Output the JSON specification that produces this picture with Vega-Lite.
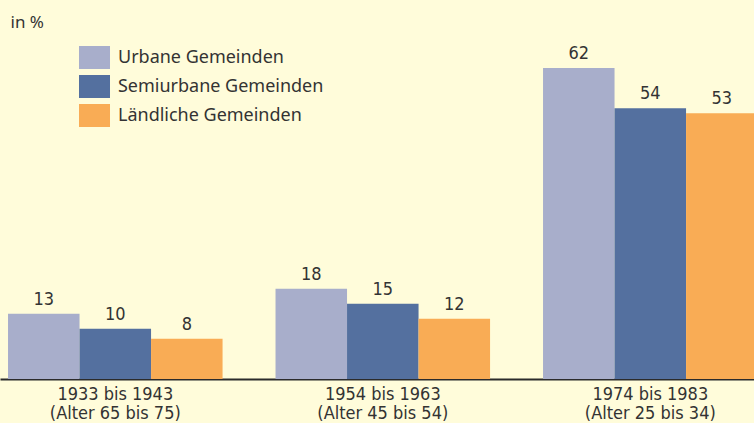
{
  "$schema": "https://vega.github.io/schema/vega-lite/v6.json",
  "width": 765.6,
  "height": 379,
  "autosize": "none",
  "padding": {"left": 0, "top": 0, "right": 0, "bottom": 44},
  "background": "#FFFCDA",
  "config": {"view": {"stroke": null}, "font": "DejaVu Sans Condensed, Liberation Sans, sans-serif"},
  "data": {"values": [
    {"gruppe": "1933 bis 1943|(Alter 65 bis 75)", "typ": "Urbane Gemeinden", "wert": 13},
    {"gruppe": "1933 bis 1943|(Alter 65 bis 75)", "typ": "Semiurbane Gemeinden", "wert": 10},
    {"gruppe": "1933 bis 1943|(Alter 65 bis 75)", "typ": "Ländliche Gemeinden", "wert": 8},
    {"gruppe": "1954 bis 1963|(Alter 45 bis 54)", "typ": "Urbane Gemeinden", "wert": 18},
    {"gruppe": "1954 bis 1963|(Alter 45 bis 54)", "typ": "Semiurbane Gemeinden", "wert": 15},
    {"gruppe": "1954 bis 1963|(Alter 45 bis 54)", "typ": "Ländliche Gemeinden", "wert": 12},
    {"gruppe": "1974 bis 1983|(Alter 25 bis 34)", "typ": "Urbane Gemeinden", "wert": 62},
    {"gruppe": "1974 bis 1983|(Alter 25 bis 34)", "typ": "Semiurbane Gemeinden", "wert": 54},
    {"gruppe": "1974 bis 1983|(Alter 25 bis 34)", "typ": "Ländliche Gemeinden", "wert": 53}
  ]},
  "encoding": {
    "x": {
      "field": "gruppe", "type": "nominal", "sort": null,
      "scale": {"paddingInner": 0.198, "paddingOuter": 0.03},
      "axis": {
        "title": null, "labelAngle": 0, "ticks": false,
        "domainColor": "#2b2b2b", "domainWidth": 2,
        "labelFont": "DejaVu Sans Condensed, Liberation Sans, sans-serif", "labelFontSize": 18, "labelColor": "#333333",
        "labelPadding": 7, "labelLineHeight": 19, "labelBaseline": "top",
        "labelExpr": "split(datum.label, '|')"
      }
    },
    "xOffset": {
      "field": "typ", "type": "nominal",
      "sort": ["Urbane Gemeinden", "Semiurbane Gemeinden", "Ländliche Gemeinden"],
      "scale": {"paddingInner": 0, "paddingOuter": 0}
    },
    "y": {
      "field": "wert", "type": "quantitative",
      "scale": {"domain": [0, 75.56], "nice": false},
      "axis": {
        "title": "in %", "titleAngle": 0, "titleX": 10, "titleY": 22,
        "titleAlign": "left", "titleBaseline": "middle",
        "titleFont": "Noto Sans", "titleFontSize": 17, "titleFontWeight": "normal", "titleColor": "#333333",
        "labels": false, "ticks": false, "domain": false, "grid": false
      }
    }
  },
  "layer": [
    {
      "mark": {"type": "bar"},
      "encoding": {
        "color": {
          "field": "typ", "type": "nominal",
          "sort": ["Urbane Gemeinden", "Semiurbane Gemeinden", "Ländliche Gemeinden"],
          "scale": {"domain": ["Urbane Gemeinden", "Semiurbane Gemeinden", "Ländliche Gemeinden"], "range": ["#A8AECB", "#54709F", "#F9AC55"]},
          "legend": {
            "title": null, "orient": "none", "legendX": 79, "legendY": 42,
            "symbolType": "M-1,-0.742L1,-0.742L1,0.742L-1,0.742Z",
            "symbolSize": 961, "symbolStrokeWidth": 0, "symbolOpacity": 1,
            "labelFont": "Noto Sans", "labelFontSize": 18, "labelColor": "#333333",
            "labelOffset": 8, "rowPadding": 1, "labelLimit": 400
          }
        }
      }
    },
    {
      "mark": {"type": "text", "baseline": "bottom", "dy": -5, "fontSize": 18, "font": "DejaVu Sans Condensed, Liberation Sans, sans-serif", "color": "#333333"},
      "encoding": {"text": {"field": "wert", "type": "quantitative"}}
    }
  ]
}
